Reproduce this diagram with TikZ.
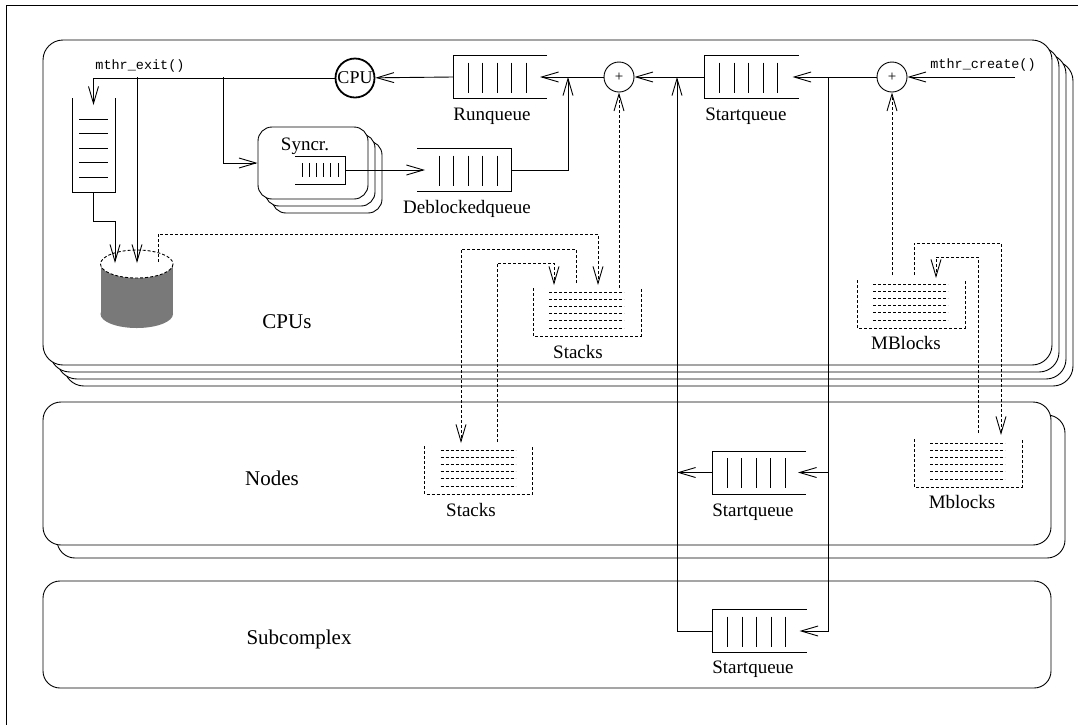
\documentclass[tikz,border=0pt]{standalone}
\usepackage{fontspec}
\setmainfont{Liberation Serif}
\setmonofont{Liberation Mono}
\usetikzlibrary{arrows.meta,calc}

% queue closed on the left, open on the right
\newcommand\lqueue[2]{%
  \node[qnode] (#1) at (#2) {};
  \draw (#1.north east) -- (#1.north west) -- (#1.south west) -- (#1.south east);
  \foreach \k in {0,...,4}
    \draw ($(#1.north west)+({15+14.5*\k},7)$) -- ($(#1.south west)+({15+14.5*\k},-6)$);
}
% queue closed on the right, open on the left
\newcommand\rqueue[2]{%
  \node[qnode] (#1) at (#2) {};
  \draw (#1.north west) -- (#1.north east) -- (#1.south east) -- (#1.south west);
  \foreach \k in {0,...,4}
    \draw ($(#1.north east)+({-14-14.5*\k},7)$) -- ($(#1.south east)+({-14-14.5*\k},-6)$);
}
% dashed memory pool, open at the top
\newcommand\dpool[2]{%
  \node[pool] (#1) at (#2) {};
  \draw[dsh] (#1.north west) -- (#1.south west) -- (#1.south east) -- (#1.north east);
  \foreach \k in {0,...,5}
    \draw[dsh] ($(#1.north west)+(16,{4+7.2*\k})$) -- ($(#1.north east)+(-17,{4+7.2*\k})$);
}

\begin{document}
\begin{tikzpicture}[x=1pt,y=-1pt,line width=0.9pt,
  arr/.style={-{Straight Barb[length=17pt,width=10pt]}},
  dsh/.style={dash pattern=on 3pt off 2pt},
  qnode/.style={inner sep=0pt,outer sep=0pt,draw=none,minimum width=94pt,minimum height=43pt},
  pool/.style={inner sep=0pt,outer sep=0pt,draw=none,minimum width=108pt,minimum height=48pt},
  lab/.style={font=\fontsize{19}{19}\selectfont,inner sep=0pt,anchor=base},
  big/.style={font=\fontsize{21}{21}\selectfont,inner sep=0pt,anchor=base},
  code/.style={font=\ttfamily\fontsize{13.5}{13.5}\selectfont,inner sep=0pt,anchor=base},
  layer/.style={draw,fill=white},
  plusnode/.style={circle,draw,minimum size=30pt,inner sep=0pt,font=\fontsize{15}{15}\selectfont},
]
\useasboundingbox (0,0) rectangle (1078,724);
\fill[white] (0,0) rectangle (1078,724);

% page frame
\draw[line width=0.8pt] (6.5,5.5) rectangle (1100,760);

% ---------- CPU level (stacked) ----------
\foreach \o in {21,14,7}
  \draw[layer,rounded corners=20pt] ({43+\o},{40+\o}) rectangle ({1052+\o},{365+\o});
\draw[layer,rounded corners=20pt] (43,40) rectangle (1052,365);

% ---------- Node level ----------
\draw[layer,rounded corners=18pt] (57,415) rectangle (1065,558);
\draw[layer,rounded corners=18pt] (43,402) rectangle (1051,545);

% ---------- Subcomplex level ----------
\draw[layer,rounded corners=17pt] (43,581) rectangle (1051,688);

\node[big] (lcpus) at (287,328) {CPUs};
\node[big] (lnodes) at (272,485) {Nodes};
\node[big] (lsub) at (299,644) {Subcomplex};

% ---------- processing elements ----------
\node[circle,draw,line width=1.8pt,minimum size=39pt,inner sep=0pt,
      font=\fontsize{18}{18}\selectfont] (cpu) at (355,78) {CPU};
\node[plusnode] (p1) at (619,77) {+};
\node[plusnode] (p2) at (892,77) {+};

\node[code] (lexit) at (140,69) {mthr\_exit()};
\node[code] (lcreate) at (983,68) {mthr\_create()};

% queues
\lqueue{runq}{500,77}
\lqueue{stq}{751.5,77}
\rqueue{dbq}{464,170}
\lqueue{nodeq}{759,472.5}
\lqueue{subq}{759.5,631}

\node[lab] (lrunq) at (492,120) {Runqueue};
\node[lab] (lstq) at (746,120) {Startqueue};
\node[lab] (ldbq) at (467,213) {Deblockedqueue};
\node[lab] (lnodeq) at (753,516) {Startqueue};
\node[lab] (lsubq) at (753,673) {Startqueue};

% exited-thread stack
\node[inner sep=0pt,outer sep=0pt,minimum width=43pt,minimum height=94pt] (exitq) at (93.5,145) {};
\draw (exitq.north west) -- (exitq.south west) -- (exitq.south east) -- (exitq.north east);
\foreach \k in {0,...,4}
  \draw ($(exitq.south west)+(7,{-15-14.5*\k})$) -- ($(exitq.south east)+(-7,{-15-14.5*\k})$);

% synchronisation objects
\draw[layer,rounded corners=14pt] (272,141) rectangle (382,213);
\draw[layer,rounded corners=14pt] (265,134) rectangle (375,206);
\node[layer,rounded corners=14pt,inner sep=0pt,minimum width=110pt,minimum height=72pt] (sync) at (313,163) {};
\node[lab] (lsync) at (305,150) {Syncr.};
\node[inner sep=0pt,outer sep=0pt,minimum width=50pt,minimum height=28pt] (sq) at (320,170) {};
\draw (sq.north west) -- (sq.north east) -- (sq.south east) -- (sq.south west);
\foreach \k in {0,...,5}
  \draw ($(sq.north east)+({-7-7.2*\k},7)$) -- ($(sq.south east)+({-7-7.2*\k},-7)$);

% free stack store (cylinder)
\fill[gray!95!black] (100.5,264) rectangle (173,314);
\fill[gray!95!black] (136.75,314) ellipse [x radius=36.25,y radius=14];
\draw[dsh,fill=white] (136.75,264) ellipse [x radius=36.25,y radius=14];
\node[inner sep=0pt,outer sep=0pt,minimum width=73pt,minimum height=78pt] (cyl) at (136.75,289) {};

% memory pools
\dpool{cstk}{587,312}
\dpool{nstk}{478.5,470}
\dpool{cmb}{911,304}
\dpool{nmb}{968,463}
\node[lab] (lcstk) at (578,358) {Stacks};
\node[lab] (lnstk) at (471,516) {Stacks};
\node[lab] (lcmb) at (906,349) {MBlocks};
\node[lab] (lnmb) at (962,508) {Mblocks};

% ---------- connector end points ----------
\coordinate (create) at (1015,77);
\coordinate (jA) at (677,77);
\coordinate (jB) at (828,77);
\coordinate (jdb) at (568,77);
\coordinate (jsync) at (223,77);
\coordinate (jcyl) at (137,77);
\coordinate (cylinL) at (115,263);
\coordinate (cylinR) at (137,263);
\coordinate (cylout) at (158,262);
\coordinate (cstkinA) at (554,285);
\coordinate (cstkinB) at (598,285);
\coordinate (cstkoutA) at (576,283);
\coordinate (cstkoutB) at (619,288);
\coordinate (nstkin) at (461,443);
\coordinate (nstkout) at (497,442);
\coordinate (cmbin) at (936,278);
\coordinate (cmbout1) at (892,275);
\coordinate (cmbout2) at (914,275);
\coordinate (nmbin) at (1001,435);
\coordinate (nmbout) at (978,433);

% ---------- thread flow ----------
\draw[arr] (create) -- (p2);
\draw[arr,shorten >=-6pt] (p2) -- (stq.east);
\draw[arr] (stq.west) -- (p1);
\draw[arr,shorten >=-7pt] (p1) -- (runq.east);
\draw[arr] (runq.west) -- (cpu);
\draw[arr,shorten >=-7pt] (cpu) -- (cpu -| exitq.north) -- (exitq.north);
\draw[arr] (jcyl) -- (cylinR);
\draw[arr] (exitq.south) -- ++(0,29) -| (cylinL);
\draw[arr] (jsync) |- (sync.west);
\draw[arr,shorten >=-8pt] (sq.east) -- (dbq.west);
\draw[arr] (dbq.east) -| (jdb);
\draw[arr] (subq.west) -| (jA);
\draw[arr] (nodeq.west) -- (nodeq.west -| jA);
\draw[arr,shorten >=-7pt] (jB) |- (subq.east);
\draw[arr,shorten >=-8pt] (nodeq.east -| jB) -- (nodeq.east);

% ---------- memory flow ----------
\draw[dsh,arr] (cylout) -- ++(0,-28) -| (cstkinB);
\draw[dsh,arr] (cstkoutA) -- ++(0,-34) -| (nstkin);
\draw[dsh,arr] (nstkout) -- ++(0,-179) -| (cstkinA);
\draw[dsh,arr] (cstkoutB) -- (p1);
\draw[dsh,arr] (cmbout1) -- (p2);
\draw[dsh,arr] (cmbout2) -- ++(0,-32) -| (nmbin);
\draw[dsh,arr] (nmbout) -- ++(0,-176) -| (cmbin);
\end{tikzpicture}
\end{document}
